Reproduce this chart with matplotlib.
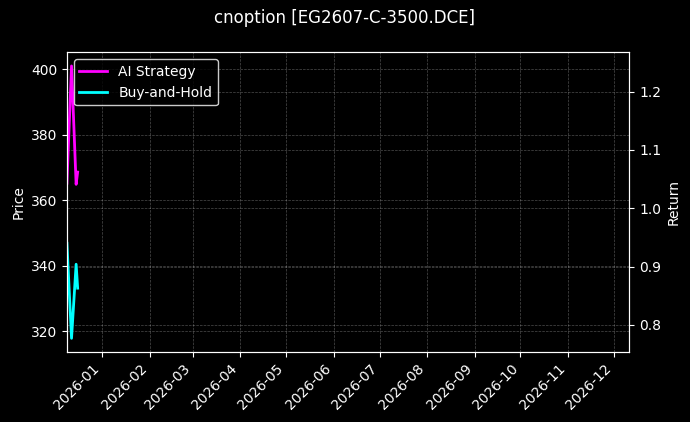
import numpy as np
import pandas as pd
import matplotlib
matplotlib.use('Agg')
import matplotlib.pyplot as plt
import matplotlib.dates as mdates

# backtest equity (normalised)
dates = pd.to_datetime(['2025-12-09', '2025-12-12', '2025-12-15', '2025-12-16'])
ai_strategy = [1.043, 1.244, 1.041, 1.062]
buy_and_hold = [0.940, 0.777, 0.904, 0.863]
price_lim = (313.6, 405.2)
x_range = pd.to_datetime(['2025-12-09', '2026-12-11'])

plt.style.use('dark_background')
fig, ax1 = plt.subplots(figsize=(6.9, 4.22), dpi=100)
fig.subplots_adjust(left=0.097, right=0.912, top=0.876, bottom=0.166)

ax1.set_ylim(*price_lim)
ax1.set_ylabel('Price')
ax1.grid(True, linestyle='--', linewidth=0.5, alpha=0.3)

ax2 = ax1.twinx()
ax2.plot(dates, ai_strategy, color='magenta', linewidth=2, label='AI Strategy')
ax2.plot(dates, buy_and_hold, color='cyan', linewidth=2, label='Buy-and-Hold')
ax2.set_ylabel('Return')
ax2.grid(True, linestyle='--', linewidth=0.5, alpha=0.3)
ax2.legend(loc='upper left', facecolor='black', edgecolor='white')

ax1.set_xlim(x_range[0], x_range[1])
ax1.xaxis.set_major_locator(mdates.MonthLocator())
ax1.xaxis.set_major_formatter(mdates.DateFormatter('%Y-%m'))
plt.setp(ax1.get_xticklabels(), rotation=45, ha='right')

fig.suptitle('cnoption [EG2607-C-3500.DCE]', fontsize=12, y=0.978)
fig.savefig('out.png', dpi=100, facecolor='black')
